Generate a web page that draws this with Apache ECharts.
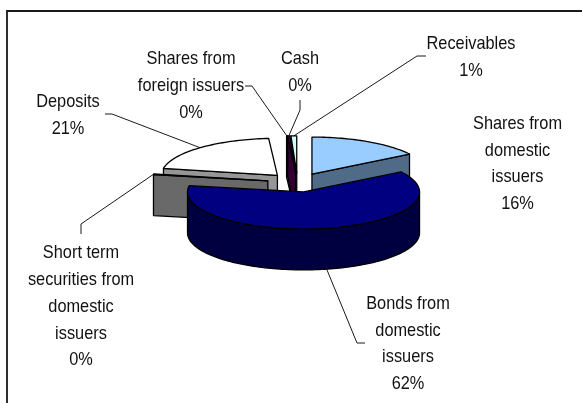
<!DOCTYPE html>
<html>
<head>
<meta charset="utf-8">
<style>html,body{margin:0;padding:0;background:#fff}#chart{width:582px;height:403px}</style>
<script src="https://cdn.jsdelivr.net/npm/echarts@6/dist/echarts.min.js"></script>
</head>
<body>
<div id="chart"></div>
<script>
// Portfolio structure, in clockwise order from twelve o'clock.
const categories = [
  'Shares from\ndomestic\nissuers',
  'Bonds from\ndomestic\nissuers',
  'Short term\nsecurities from\ndomestic\nissuers',
  'Deposits',
  'Shares from\nforeign issuers',
  'Cash',
  'Receivables'
];
const shares = [15.9, 61.8, 0.3, 20.8, 0.1, 0.3, 0.8];

// Surface and wall colours per slice.
const topColors  = ['#99ccff', '#000080', '#808080', '#ffffff', '#ffffff', '#660066', '#ccffff'];
const cutColors  = ['#4f6b88', '#000040', '#696969', '#969696', '#c8c8c8', '#330033', '#6f9090'];
const wallColors = ['#4f6b88', '#000040', '#696969', '#969696', '#c8c8c8', '#330033', '#6f9090'];

// Painting order, back slices first.
const paintOrder = [3, 6, 4, 5, 0, 2, 1];

// Label centres (first line) and where each leader line leaves its label.
const labelCentres = [[517.5, 123.5], [408, 303.5], [81, 253], [68, 102], [191, 59], [300, 59], [471, 44]];
const leaderStarts = [
  null,
  [[365, 343], [357, 343]],
  [[81, 234], [81, 224]],
  [[105, 114], [112, 114]],
  [[245, 86], [252, 86]],
  [[300, 100], [300, 110]],
  [[426, 56], [417, 56]]
];

// Projected pie: ellipse radii, wall height, explode distance on the ellipse.
const centre = [297.5, 182.5];
const rx = 116, ry = 37, depth = 41, explode = 0.26;
const lineHeight = 26.8;

const total = shares.reduce((a, b) => a + b, 0);
const spans = [];
shares.reduce((acc, v) => { const next = acc + v / total * 360; spans.push([acc, next]); return next; }, 0);

const rad = d => d * Math.PI / 180;
function apexOf(i) {
  const mid = rad((spans[i][0] + spans[i][1]) / 2);
  return [centre[0] + rx * explode * Math.sin(mid), centre[1] - ry * explode * Math.cos(mid)];
}
function rim(apex, deg, drop) {
  return [apex[0] + rx * Math.sin(rad(deg)), apex[1] - ry * Math.cos(rad(deg)) + (drop || 0)];
}
function arcPoints(apex, from, to, drop) {
  const steps = Math.max(2, Math.ceil((to - from) / 1.5));
  const pts = [];
  for (let k = 0; k <= steps; k++) pts.push(rim(apex, from + (to - from) * k / steps, drop));
  return pts;
}
const outline = { stroke: '#000', lineWidth: 1.3, lineJoin: 'round' };

function renderSlice(params, api) {
  const i = api.value(0);
  const [a0, a1] = spans[i];
  const apex = apexOf(i);
  const children = [];
  const add = (points, fill) => children.push({
    type: 'polygon', shape: { points }, style: Object.assign({ fill }, outline)
  });
  const low = [apex[0], apex[1] + depth];

  // Cut faces that turn toward the viewer.
  if (a0 >= 180) add([apex, rim(apex, a0), rim(apex, a0, depth), low], cutColors[i]);
  if (a1 <= 180) add([apex, rim(apex, a1), rim(apex, a1, depth), low], cutColors[i]);

  // Outer wall on the near half of the rim.
  const w0 = Math.max(a0, 90), w1 = Math.min(a1, 270);
  if (w1 > w0) {
    add(arcPoints(apex, w0, w1, 0).concat(arcPoints(apex, w0, w1, depth).reverse()), wallColors[i]);
  }
  // Top surface.
  add([apex].concat(arcPoints(apex, a0, a1, 0)), topColors[i]);
  return { type: 'group', children };
}

function renderLabel(params, api) {
  const i = api.value(0);
  const apex = apexOf(i);
  const mid = (spans[i][0] + spans[i][1]) / 2;
  const pct = Math.round(shares[i] / total * 100) + '%';
  const lines = categories[i].split('\n').concat(pct);
  const children = lines.map((line, n) => ({
    type: 'text',
    x: labelCentres[i][0],
    y: labelCentres[i][1] + n * lineHeight,
    scaleX: 0.86,
    style: {
      text: line, fill: '#111', textAlign: 'center', textVerticalAlign: 'middle',
      font: '19px "Liberation Sans", Arial, sans-serif'
    }
  }));
  if (leaderStarts[i]) {
    // Leaders end on the rim at the middle of the slice; near-side ones end under the wall.
    const drop = mid > 90 && mid < 270 ? depth : 0;
    children.push({
      type: 'polyline',
      shape: { points: leaderStarts[i].concat([rim(apex, mid, drop)]) },
      style: { stroke: '#000', lineWidth: 0.9, fill: null }
    });
  }
  return { type: 'group', children };
}

const chart = echarts.init(document.getElementById('chart'), null, { renderer: 'canvas' });
chart.setOption({
  animation: false,
  backgroundColor: '#fff',
  graphic: [{
    type: 'polyline',
    silent: true,
    shape: { points: [[7, 403], [7, 11], [582, 11]] },
    style: { stroke: '#1a1a1a', lineWidth: 1.8, fill: null }
  }],
  series: [
    {
      type: 'custom', coordinateSystem: 'none', silent: true, z: 2,
      renderItem: renderSlice,
      data: paintOrder.map(i => [i, shares[i]])
    },
    {
      type: 'custom', coordinateSystem: 'none', silent: true, z: 3,
      renderItem: renderLabel,
      data: categories.map((c, i) => [i, shares[i]])
    }
  ]
});
</script>
</body>
</html>
